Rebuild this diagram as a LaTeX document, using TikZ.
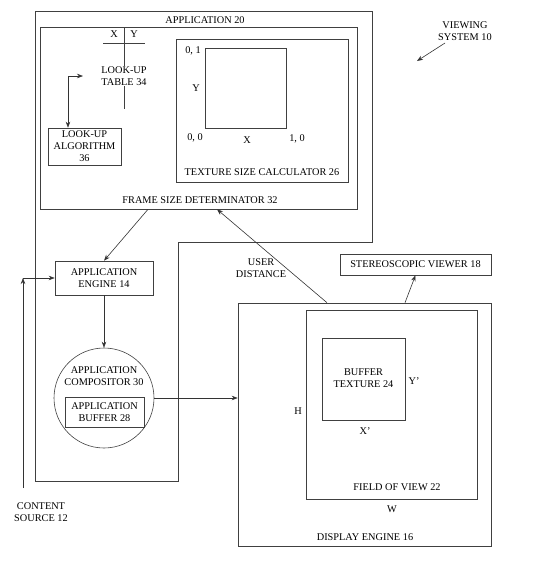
\documentclass[tikz,border=0pt]{standalone}
\usepackage{fontspec}
\setmainfont{Liberation Serif}
\usetikzlibrary{arrows.meta}

\begin{document}
\begin{tikzpicture}[x=1pt,y=-1pt,
        line width=0.6pt, draw=black!75,
        box/.style={draw=black!75, rectangle, inner sep=0pt},
        txt/.style={inner sep=0pt, align=center, font=\fontsize{10.3}{12}\selectfont},
        arr/.style={-{Stealth[length=6pt,width=4.5pt]}, draw=black!80}]
        \useasboundingbox (0,0) rectangle (542,563);
        % application outline
        \draw[black!75] (35,11) -- (372,11) -- (372,242) -- (178,242) -- (178,481) -- (35,481) -- cycle;
        \node[txt] (app) at (205,20) {APPLICATION 20};
        % frame size determinator and texture size calculator
        \node[box, minimum width=317pt, minimum height=182pt] (fsd) at (198.5,118) {};
        \node[txt] (fsdlabel) at (200,200) {FRAME SIZE DETERMINATOR 32};
        \node[box, minimum width=172pt, minimum height=143pt] (tsc) at (262,110.5) {};
        \node[txt] (tsclabel) at (262,172) {TEXTURE SIZE CALCULATOR 26};
        \node[box, minimum width=81pt, minimum height=80pt] (unit) at (245.5,88) {};
        \node[txt] (p01) at (193,51) {0, 1};
        \node[txt] (uy) at (196,88) {Y};
        \node[txt] (p00) at (195,138) {0, 0};
        \node[txt] (ux) at (247,140) {X};
        \node[txt] (p10) at (297,139) {1, 0};
        % look-up table
        \coordinate (luttop) at (124,27);
        \coordinate (lutbot) at (124,109);
        \coordinate (lutleft) at (103,43);
        \coordinate (lutright) at (145,43);
        \draw (luttop) -- (lutbot);
        \draw (lutleft) -- (lutright);
        \node[txt] (lutx) at (114,34) {X};
        \node[txt] (luty) at (134,34) {Y};
        \node[txt, fill=white, inner sep=1pt] (lut) at (124,76) {LOOK-UP\\TABLE 34};
        \node[box, minimum width=73pt, minimum height=37pt, txt, draw] (lua) at (84.5,146.5) {LOOK-UP\\ALGORITHM\\36};
        \coordinate (lutend) at (83,76);
        \draw[arr, {Stealth[length=6pt,width=4.5pt]}-{Stealth[length=6pt,width=4.5pt]}] ([xshift=-16.5pt]lua.north) |- (lutend);
        % engine and compositor
        \node[box, minimum width=98pt, minimum height=34pt, txt, draw] (engine) at (104,278) {APPLICATION\\ENGINE 14};
        \node[draw=black!75, circle, minimum size=100pt, inner sep=0pt] (comp) at (104,398) {};
        \node[txt] (complabel) at (104,376) {APPLICATION\\COMPOSITOR 30};
        \node[box, minimum width=79pt, minimum height=30pt, txt, draw] (abuf) at (104.5,412) {APPLICATION\\BUFFER 28};
        % display engine
        \node[box, minimum width=253pt, minimum height=243pt] (display) at (364.5,424.5) {};
        \node[txt] (displabel) at (365,537) {DISPLAY ENGINE 16};
        \node[box, minimum width=171pt, minimum height=189pt] (fov) at (391.5,404.5) {};
        \node[txt] (fovlabel) at (397,487) {FIELD OF VIEW 22};
        \node[txt] (fovh) at (298,411) {H};
        \node[txt] (fovw) at (392,509) {W};
        \node[box, minimum width=83pt, minimum height=82pt] (btex) at (363.5,379) {};
        \node[txt] (btexlabel) at (363.5,378) {BUFFER\\TEXTURE 24};
        \node[txt] (by) at (414,381) {Y'};
        \node[txt] (bx) at (365,431) {X'};
        \node[box, minimum width=151pt, minimum height=21pt, txt, draw] (viewer) at (415.5,264.5) {STEREOSCOPIC VIEWER 18};
        % labels outside
        \node[txt] (userdist) at (261,268) {USER\\DISTANCE};
        \node[txt] (vsys) at (465,31) {VIEWING\\SYSTEM 10};
        \node[txt] (csrc) at (41,512) {CONTENT\\SOURCE 12};
        \coordinate (vsend) at (417,61);
        \coordinate (csbot) at (23,488);
        \coordinate (cscorner) at (23,278);
        % connectors
        \draw[arr] ([xshift=-50.5pt]fsd.south) -- (engine.north);
        \draw[arr] ([xshift=-37.5pt]display.north) -- ([xshift=18.5pt]fsd.south);
        \draw[arr] ([xshift=40.5pt]display.north) -- (viewer.south);
        \draw[arr] (engine.south) -- (comp.north);
        \draw[arr] (comp.east) -- (comp.east -| display.west);
        \draw[arr] ([xshift=-20pt,yshift=-12pt]vsys.center) -- (vsend);
        \draw[arr] (csbot) -- (cscorner);
        \draw[arr] (cscorner) -- (cscorner -| engine.west);
\end{tikzpicture}
\end{document}
